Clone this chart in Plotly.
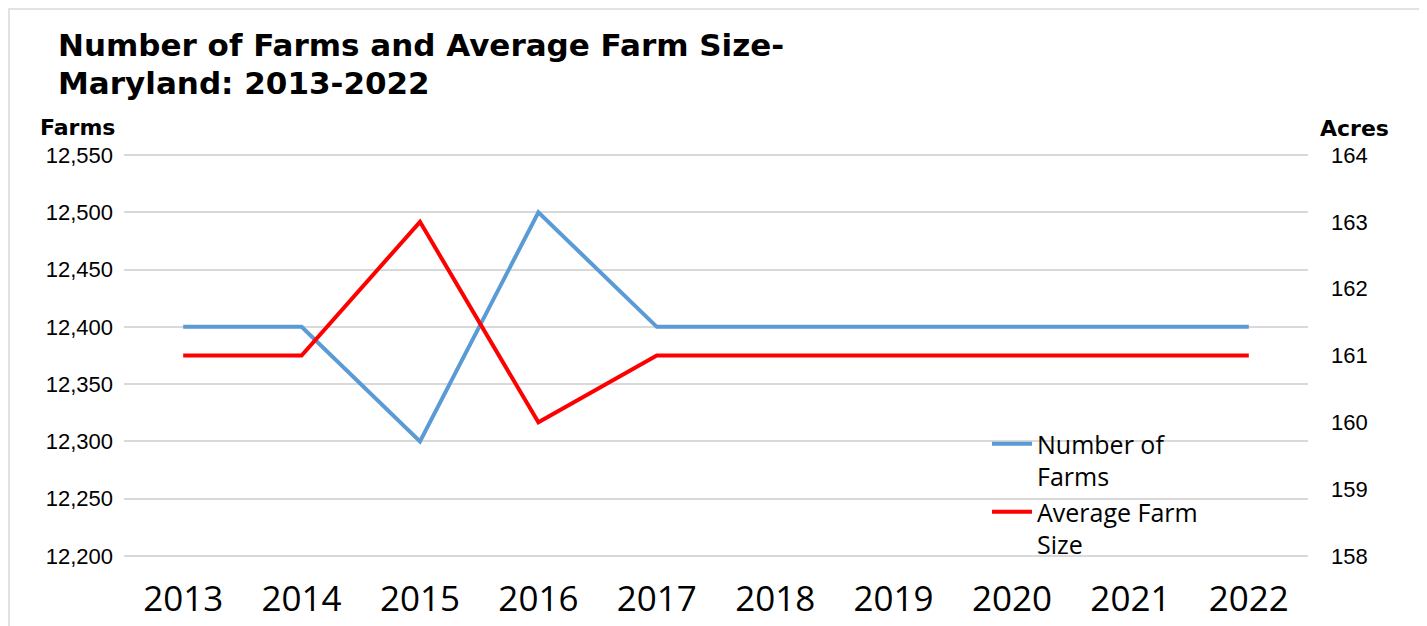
import plotly.graph_objects as go

years = ["2013", "2014", "2015", "2016", "2017", "2018", "2019", "2020", "2021", "2022"]
farms = [12400, 12400, 12300, 12500, 12400, 12400, 12400, 12400, 12400, 12400]
avg_size = [161, 161, 163, 160, 161, 161, 161, 161, 161, 161]
farm_ticks = [12200, 12250, 12300, 12350, 12400, 12450, 12500, 12550]
acre_ticks = [158, 159, 160, 161, 162, 163, 164]

OFF = 8  # page body margin
W, H = 1427 - OFF, 626 - OFF
EP = 2  # extra px above/below so edge gridlines are drawn
# plot area in screenshot coordinates
PL, PR, PT, PB = 124, 1308, 155 - EP, 556 + EP
L, R, T, B = PL - OFF, W - (PR - OFF), PT - OFF, H - (PB - OFF)
pw, ph = W - L - R, H - T - B

def px(x):
    return (x - OFF - L) / pw

def py(y):
    return (H - B - (y - OFF)) / ph

eps_l = EP * 350 / 401
eps_r = EP * 6 / 401

fig = go.Figure()
fig.add_trace(go.Scatter(
    x=years, y=farms, name="Number of<br>Farms", mode="lines",
    line=dict(color="#5b9bd5", width=4), yaxis="y"))
fig.add_trace(go.Scatter(
    x=years, y=avg_size, name="Average Farm<br>Size", mode="lines",
    line=dict(color="#ff0000", width=4), yaxis="y2"))

title_font = dict(family="DejaVu Sans", size=31, color="black", weight="bold")
label_font = dict(family="DejaVu Sans", size=22, color="black", weight="bold")

fig.update_layout(
    width=W, height=H,
    margin=dict(l=L, r=R, t=T, b=B, autoexpand=False),
    paper_bgcolor="white", plot_bgcolor="white",
    showlegend=True,
    xaxis=dict(
        type="category", range=[-0.5, 9.5], automargin=False,
        tickfont=dict(family="Open Sans", size=35, color="black"),
        showgrid=False, showline=False, ticks="", zeroline=False,
        ticklabelstandoff=17),
    yaxis=dict(
        range=[12200 - eps_l, 12550 + eps_l], tickvals=farm_ticks, tickformat=",",
        automargin=False,
        tickfont=dict(family="Liberation Sans", size=22, color="black"),
        showgrid=True, gridcolor="#d9d9d9", gridwidth=1.5,
        zeroline=False, showline=False, ticks="", ticklabelstandoff=10),
    yaxis2=dict(
        range=[158 - eps_r, 164 + eps_r], tickvals=acre_ticks,
        overlaying="y", side="right", automargin=False,
        tickfont=dict(family="Liberation Sans", size=22, color="black"),
        showgrid=False, zeroline=False, showline=False, ticks="",
        ticklabelstandoff=22),
    legend=dict(
        x=px(987), y=py(421), xanchor="left", yanchor="top",
        bgcolor="rgba(0,0,0,0)", valign="top",
        font=dict(family="Open Sans", size=25, color="black"),
        itemwidth=40, tracegroupgap=0),
    annotations=[
        dict(text="Number of Farms and Average Farm Size-", xref="paper", yref="paper",
             x=px(56), y=py(45), xanchor="left", yanchor="middle",
             showarrow=False, font=title_font),
        dict(text="Maryland: 2013-2022", xref="paper", yref="paper",
             x=px(56), y=py(83), xanchor="left", yanchor="middle",
             showarrow=False, font=title_font),
        dict(text="Farms", xref="paper", yref="paper",
             x=px(38), y=py(127), xanchor="left", yanchor="middle",
             showarrow=False, font=label_font),
        dict(text="Acres", xref="paper", yref="paper",
             x=px(1391), y=py(129), xanchor="right", yanchor="middle",
             showarrow=False, font=label_font),
    ],
    shapes=[
        dict(type="rect", xref="paper", yref="paper",
             x0=px(9), x1=px(1421), y0=py(660), y1=py(9),
             line=dict(color="#d9d9d9", width=1.5), fillcolor="rgba(0,0,0,0)",
             layer="below"),
    ],
)

fig.write_html("out.html")
